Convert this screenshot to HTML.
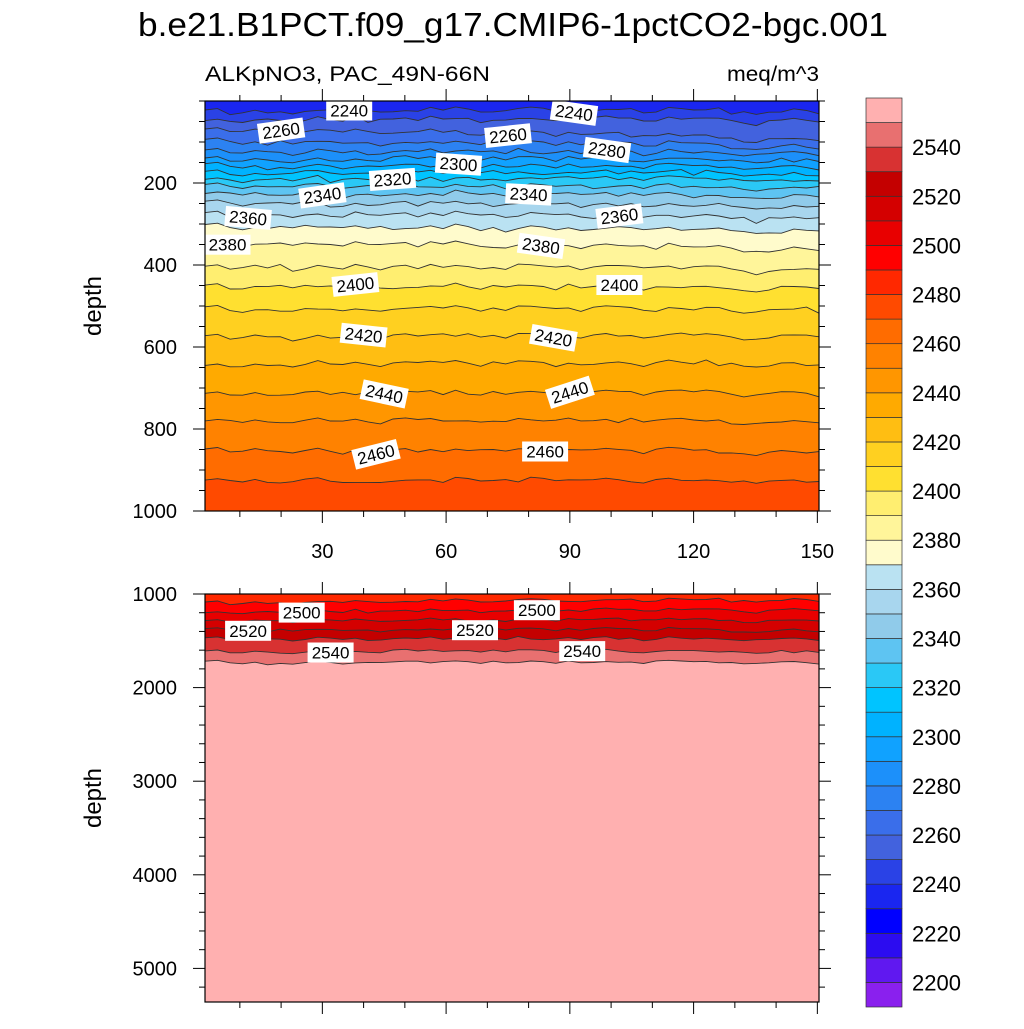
<!DOCTYPE html>
<html><head><meta charset="utf-8">
<style>
html,body{margin:0;padding:0;background:#fff;}
svg text{font-family:"Liberation Sans",Arial,sans-serif;}
</style></head>
<body>
<svg id="chart" width="1024" height="1024" viewBox="0 0 1024 1024" xmlns="http://www.w3.org/2000/svg">
<text x="138" y="36" font-size="33" textLength="750" lengthAdjust="spacingAndGlyphs">b.e21.B1PCT.f09_g17.CMIP6-1pctCO2-bgc.001</text>
<text x="205" y="81" font-size="21" textLength="285" lengthAdjust="spacingAndGlyphs">ALKpNO3, PAC_49N-66N</text>
<text x="727" y="81" font-size="21" textLength="92" lengthAdjust="spacingAndGlyphs">meq/m^3</text>
<g id="top"></g>
<g id="bot"></g>
<g id="cbar"></g>
</svg>
<script>
// ---- data ----
const cbLevels = [2200,2210,2220,2230,2240,2250,2260,2270,2280,2290,2300,2310,2320,2330,2340,2350,2360,2370,2380,2390,2400,2410,2420,2430,2440,2450,2460,2470,2480,2490,2500,2510,2520,2530,2540,2550];
const cbColors = ["#8a20ee","#6018f0","#2c0cf0","#0000ff","#1a26f0","#2a42e6","#4262de","#3a6eea","#2c82f2","#1c90fa","#10a2ff","#00b2ff","#00c4ff","#2ac8f6","#5ec4f2","#90cbea","#a8d6ee","#bae2f2","#fffbcc","#fff59a","#ffee70","#ffe030","#ffd020","#ffbe12","#ffaa00","#ff9600","#ff8200","#ff6c00","#ff4a00","#ff2800","#ff0000","#e80000","#d40000","#c40000","#d83232","#e87070","#ffb0b0"];
const cbLabels = [2200,2220,2240,2260,2280,2300,2320,2340,2360,2380,2400,2420,2440,2460,2480,2500,2520,2540];
const topLevels = [2240,2250,2260,2270,2280,2290,2300,2310,2320,2330,2340,2350,2360,2370,2380,2390,2400,2410,2420,2430,2440,2450,2460,2470];
const topDepthLeft = [22,41,66,95,120,139,156,173,188,205,224,246,273,302,344,400,449,505,571,639,710,778,851,924];
const topDepthRight = [24,48,92,110,127,144,161,176,191,210,232,258,285,318,360,410,456,508,574,641,712,780,854,926];
const botLevels = [2490,2500,2510,2520,2530,2540,2550];
const botDepthLeft = [1085,1182,1278,1374,1470,1608,1726];
const botDepthRight = [1060,1170,1275,1385,1480,1615,1730];
const wiggle = [0,-4,6,9,2,5,3,8,1,-2,4,6,-1,3,5,0,-3,2,-4,1,-6,-2,3,-1,4,-3,-5,-2,1,-4,2,-1,-5,-2,-3,3,-1,-7,-3,-1,-4,-2,2,6,9,4,1,-2,0,3];
const xTicksMajor = [30,60,90,120,150];
const yTicksTop = [200,400,600,800,1000];
const yTicksBot = [1000,2000,3000,4000,5000];
const topLabelLev = [2240,2240,2260,2260,2280,2300,2320,2340,2340,2360,2360,2380,2380,2400,2400,2420,2420,2440,2440,2460,2460];
const topLabelX = [36.5,91,20,75,99,63,47,30,80,12,102,7,83,38,102,40,86,45,90,43,84];
const topLabelAng = [0,8,-8,-6,8,4,-4,-8,3,5,-7,0,8,-6,0,6,10,12,-18,-14,0];
const botLabelLev = [2500,2500,2520,2520,2540,2540];
const botLabelX = [25,82,12,67,32,93];
// ---- geometry ----
const NS="http://www.w3.org/2000/svg";
const PX0=205,PX1=819;
const X=v=>198.6+v*4.125;
const XMIN=1.55,XMAX=150.4;
const yTop=d=>101+d*0.41;
const yBot=d=>594+(d-1000)*0.0936;
function mk(tag,attrs,parent){const e=document.createElementNS(NS,tag);for(const k in attrs)e.setAttribute(k,attrs[k]);parent.appendChild(e);return e;}
function colorFor(lev){let i=cbLevels.indexOf(lev);return cbColors[i+1];}
function depthAt(L,R,i,t,amp){const n=wiggle.length-1;const f=t*n;const k=Math.floor(f);const fr=f-k;const w=wiggle[Math.min(k,n)]*(1-fr)+wiggle[Math.min(k+1,n)]*fr;const w2=wiggle[(k*7+i*3)%wiggle.length]*0.5;return L[i]+(R[i]-L[i])*t+(w*0.6+w2)*amp;}
function drawPanel(g,levels,L,R,ymap,y0,y1,amp,topColor,name){
  const bg=mk('rect',{x:PX0,y:y0,width:PX1-PX0,height:y1-y0,fill:topColor},g);
  
  const N=wiggle.length-1;
  levels.forEach((lev,i)=>{
    let pts=[];
    for(let j=0;j<=N;j++){const t=j/N;const xv=XMIN+(XMAX-XMIN)*t;const y=Math.min(y1,Math.max(y0,ymap(depthAt(L,R,i,t,amp))));pts.push([X(xv),y]);}
    const poly=pts.map(p=>p[0].toFixed(1)+','+p[1].toFixed(1)).join(' ');
    const f=mk('polygon',{points:poly+' '+PX1+','+y1+' '+PX0+','+y1,fill:colorFor(lev)},g);
    
  });
  levels.forEach((lev,i)=>{
    let pts=[];
    for(let j=0;j<=N;j++){const t=j/N;const xv=XMIN+(XMAX-XMIN)*t;pts.push(X(xv).toFixed(1)+','+Math.min(y1,Math.max(y0,ymap(depthAt(L,R,i,t,amp)))).toFixed(1));}
    const l=mk('polyline',{points:pts.join(' '),fill:'none',stroke:'#333','stroke-width':0.9},g);
    
  });
}
function labels(g,levs,xs,angs,levels,L,R,ymap,amp){
  levs.forEach((lev,k)=>{
    const i=levels.indexOf(lev);const t=(xs[k]-XMIN)/(XMAX-XMIN);
    const x=X(xs[k]),y=ymap(depthAt(L,R,i,t,amp));
    const gg=mk('g',{transform:`translate(${x.toFixed(1)},${y.toFixed(1)}) rotate(${angs?angs[k]:0})`},g);
    
    mk('rect',{x:-23,y:-10,width:46,height:20,fill:'#fff'},gg);
    const tx=mk('text',{x:0,y:6,'font-size':17,'text-anchor':'middle'},gg);tx.textContent=lev;
  });
}
function frame(g,y0,y1,yticks,ymap,minorStep,yMinorStart,yMinorEnd,showX,name){
  const r=mk('rect',{x:PX0,y:y0,width:PX1-PX0,height:y1-y0,fill:'none',stroke:'#000','stroke-width':1.2},g);
  
  for(let v=10;v<=150;v+=10){const x=X(v);const maj=v%30===0;const len=maj?12:6;
    mk('line',{x1:x,y1:y1,x2:x,y2:y1+len,stroke:'#000','stroke-width':1},g);
    mk('line',{x1:x,y1:y0,x2:x,y2:y0-len,stroke:'#000','stroke-width':1},g);}
  if(showX) xTicksMajor.forEach(v=>{const t=mk('text',{x:X(v),y:y1+47,'font-size':20,'text-anchor':'middle'},g);t.textContent=v;
    });
  for(let d=yMinorStart;d<=yMinorEnd;d+=minorStep){const y=ymap(d);if(y<y0-0.5||y>y1+0.5)continue;const maj=yticks.includes(d);const len=maj?12:6;
    mk('line',{x1:PX0,y1:y,x2:PX0-len,y2:y,stroke:'#000','stroke-width':1},g);
    mk('line',{x1:PX1,y1:y,x2:PX1+len,y2:y,stroke:'#000','stroke-width':1},g);}
  yticks.forEach(d=>{const t=mk('text',{x:177,y:ymap(d)+7,'font-size':20,'text-anchor':'end'},g);t.textContent=d;
    });
  const yl=mk('text',{x:0,y:0,'font-size':24,'text-anchor':'middle',transform:`translate(101,${(y0+y1)/2}) rotate(-90)`},g);yl.textContent='depth';
  
}
const gt=document.getElementById('top'),gb=document.getElementById('bot'),gc=document.getElementById('cbar');
drawPanel(gt,topLevels,topDepthLeft,topDepthRight,yTop,101,511,1.5,colorFor(2230),'upper');
labels(gt,topLabelLev,topLabelX,topLabelAng,topLevels,topDepthLeft,topDepthRight,yTop,1.5);
frame(gt,101,511,yTicksTop,yTop,50,0,1000,true,'upper');
drawPanel(gb,botLevels,botDepthLeft,botDepthRight,yBot,594,1002,4,colorFor(2480),'lower');
labels(gb,botLabelLev,botLabelX,null,botLevels,botDepthLeft,botDepthRight,yBot,4);
frame(gb,594,1002,yTicksBot,yBot,200,1000,5400,false,'lower');
// colorbar
const CB0=98,CB1=1007,CBX=866,CBW=36;const bh=(CB1-CB0)/cbColors.length;
cbColors.forEach((c,i)=>{const y=CB1-(i+1)*bh;const r=mk('rect',{x:CBX,y:y,width:CBW,height:bh,fill:c,stroke:'#333','stroke-width':0.7},gc);
  });
cbLabels.forEach(v=>{const i=cbLevels.indexOf(v);const y=CB1-(i+1)*bh;const t=mk('text',{x:912,y:y+8,'font-size':22},gc);t.textContent=v;
  });
</script>
</body></html>
